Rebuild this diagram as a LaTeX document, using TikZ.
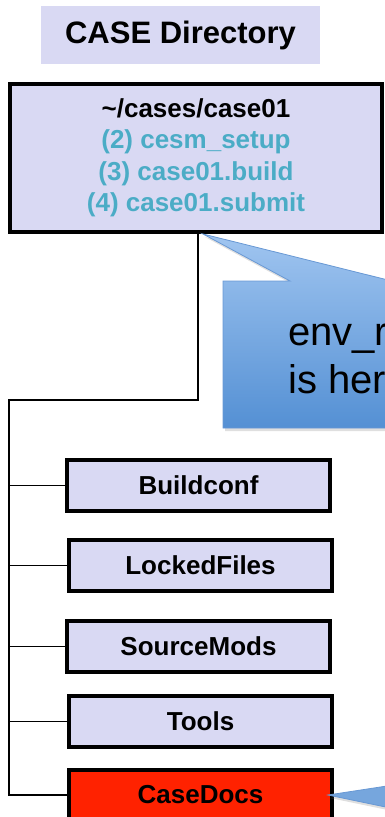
\documentclass[tikz,border=0pt]{standalone}
\usepackage{fontspec}
\setmainfont{Liberation Sans}
\usetikzlibrary{shadows}

\definecolor{dirfill}{RGB}{217,217,243}
\definecolor{scriptcol}{RGB}{75,172,198}
\definecolor{docsred}{RGB}{255,34,0}
\definecolor{calltop}{RGB}{160,197,240}
\definecolor{callbot}{RGB}{84,144,212}
\definecolor{callline}{RGB}{104,152,212}

\tikzset{
    dirbox/.style={draw, line width=4pt, fill=dirfill, inner sep=0pt,
        minimum width=263pt, minimum height=51pt,
        font=\fontsize{26}{30}\selectfont\bfseries},
    branch/.style={line width=1.3pt},
    balloon/.style={draw=callline, line width=0.8pt,
        top color=calltop, bottom color=callbot,
        drop shadow={opacity=0.25, shadow xshift=2pt, shadow yshift=-3pt}}
}

\begin{document}
\begin{tikzpicture}[x=1pt, y=-1pt]
    \useasboundingbox (0,0) rectangle (385,817);
    \clip (0,0) rectangle (385,817);

    % heading and the case directory itself
    \node[fill=dirfill, inner sep=0pt, minimum width=279pt, minimum height=58pt,
        font=\fontsize{31}{36}\selectfont\bfseries] (title) at (180.5,35) {CASE Directory};
    \node[dirbox, minimum width=372pt, minimum height=148pt, align=center,
        font=\fontsize{26}{31.5}\selectfont\bfseries] (case) at (196,158)
        {\textasciitilde/cases/case01\\
         \textcolor{scriptcol}{(2) cesm\_setup}\\
         \textcolor{scriptcol}{(3) case01.build}\\
         \textcolor{scriptcol}{(4) case01.submit}};

    % sub directories
    \node[dirbox] (buildconf) at (198.5,485.5) {Buildconf};
    \node[dirbox] (locked) at (200.5,565.5) {LockedFiles};
    \node[dirbox] (srcmods) at (198.5,646.5) {SourceMods};
    \node[dirbox] (tools) at (200.5,721.5) {Tools};
    \node[dirbox, fill=docsred] (docs) at (200.5,795) {CaseDocs};

    % tree lines
    \coordinate (bend) at (198,400);
    \coordinate (foot) at (9,796);
    \draw[branch] (bend |- case.south) -- (bend) -- (bend -| foot) -- (foot);
    \foreach \d in {buildconf, locked, srcmods, tools, docs} {
        \draw[branch] (foot |- \d.west) -- (\d.west);
    }

    % callouts
    \coordinate (hint) at ([xshift=7pt]case.south);
    \path[balloon] (hint) -- (290,281) -- (223,281) -- (223,428) -- (470,428)
        -- (470,281) -- (392,281) -- cycle;
    % base anchor sits on the last line here
    \node[anchor=base west, align=left, inner sep=0pt,
        font=\fontsize{40}{48}\selectfont] (note) at (288,393) {env\_run.xml\\is here};

    \coordinate (hint2) at ([xshift=-6pt]docs.east);
    \path[balloon, top color=callbot!80, bottom color=callbot!80] (hint2)
        -- (400,784) -- (400,810) -- cycle;
\end{tikzpicture}
\end{document}
